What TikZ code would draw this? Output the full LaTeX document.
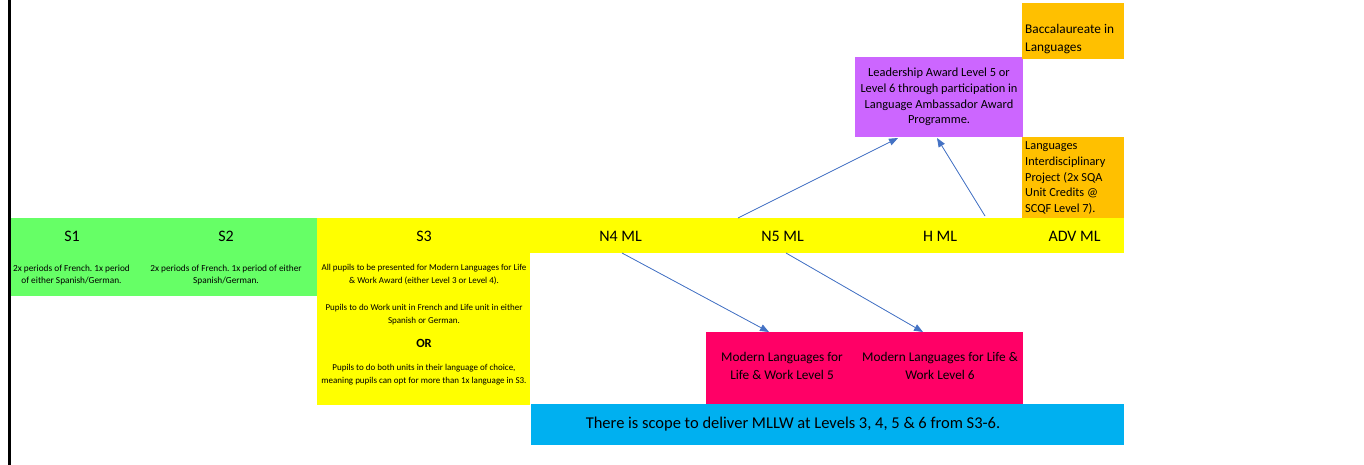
\documentclass[tikz,border=0pt]{standalone}
\usepackage{fontspec}
\setmainfont{Carlito}
\usetikzlibrary{arrows.meta}
\definecolor{cgreen}{HTML}{66FF66}
\definecolor{cyellow}{HTML}{FFFF00}
\definecolor{cpurple}{HTML}{CC66FF}
\definecolor{corange}{HTML}{FFC000}
\definecolor{cpink}{HTML}{FF0066}
\definecolor{cblue}{HTML}{00B0F0}
\definecolor{carrow}{HTML}{4472C4}
\frenchspacing
\begin{document}
\begin{tikzpicture}[x=1pt,y=-1pt,
 box/.style={inner sep=0pt, outer sep=0pt, anchor=north west},
 head/.style={font=\fontsize{16}{18}\selectfont, inner sep=0pt},
 small/.style={font=\fontsize{9.3}{12.8}\selectfont, align=center, inner sep=0pt},
 smaller/.style={font=\fontsize{9}{13}\selectfont, align=center, inner sep=0pt},
 mid/.style={font=\fontsize{12.4}{15.7}\selectfont, align=center, inner sep=0pt},
 lft/.style={align=left, anchor=west, inner sep=0pt},
 conn/.style={draw=carrow, line width=0.8pt, -{Triangle[length=9pt,width=7pt]}, fill=carrow}]
\useasboundingbox (0,0) rectangle (1364,465);
\draw[line width=3pt] (9,0) -- (9,465);
% boxes
\node[box, fill=cgreen, minimum width=306pt, minimum height=78pt] (green) at (11,218) {};
\node[box, fill=cyellow, minimum width=807pt, minimum height=35pt] (band) at (317,218) {};
\node[box, fill=cyellow, minimum width=213pt, minimum height=187pt] (s3box) at (317,218) {};
\node[box, fill=cpurple, minimum width=168pt, minimum height=80pt] (purple) at (855,57) {};
\node[box, fill=corange, minimum width=102pt, minimum height=56pt] (orange1) at (1022,3) {};
\node[box, fill=corange, minimum width=102pt, minimum height=81pt] (orange2) at (1022,137) {};
\node[box, fill=cpink, minimum width=317pt, minimum height=72pt] (pink) at (706,332) {};
\node[box, fill=cblue, minimum width=593pt, minimum height=41pt] (blue) at (531,404) {};
% headings
\node[head] (s1) at (72,236) {S1};
\node[head] (s2) at (226,236) {S2};
\node[head] (s3) at (424,236) {S3};
\node[head] (n4) at (620.5,236) {N4 ML};
\node[head] (n5) at (782.5,236) {N5 ML};
\node[head] (hml) at (940,236) {H ML};
\node[head] (adv) at (1074.5,236) {ADV ML};
% small texts
\node[small] (t1) at (71.5,275) {2x periods of French. 1x period\\of either Spanish/German.};
\node[small] (t2) at (226,275) {2x periods of French. 1x period of either\\Spanish/German.};
\node[smaller] (t3a) at (424,274.5) {All pupils to be presented for Modern Languages for Life\\\& Work Award (either Level 3 or Level 4).};
\node[smaller] (t3b) at (424,314.5) {Pupils to do Work unit in French and Life unit in either\\Spanish or German.};
\node[font=\fontsize{12.5}{14}\selectfont\bfseries, inner sep=0pt] (or) at (424,343) {OR};
\node[smaller] (t3c) at (424,374.5) {Pupils to do both units in their language of choice,\\meaning pupils can opt for more than 1x language in S3.};
% other texts
\node[mid] (lead) at (939,97) {Leadership Award Level 5 or\\Level 6 through participation in\\Language Ambassador Award\\Programme.};
\node[lft, font=\fontsize{13.3}{17.7}\selectfont] (bacc) at (1025,39) {Baccalaureate in\\Languages};
\node[lft, font=\fontsize{12.3}{15.8}\selectfont] (lip) at (1025,178) {Languages\\Interdisciplinary\\Project (2x SQA\\Unit Credits @\\SCQF Level 7).};
\node[mid, font=\fontsize{13.3}{17.7}\selectfont] (m5) at (782,366) {Modern Languages for\\Life \& Work Level 5};
\node[mid, font=\fontsize{13.3}{17.7}\selectfont] (m6) at (940,366) {Modern Languages for Life \&\\Work Level 6};
\node[font=\fontsize{16.5}{18}\selectfont, inner sep=0pt] (scope) at (793,424) {There is scope to deliver MLLW at Levels 3, 4, 5 \& 6 from S3-6.};
% connector ends
\coordinate (n4b) at (622,253);
\coordinate (n5b) at (786,253);
\coordinate (n5t) at (738,218);
\coordinate (ht) at (985,216);
\coordinate (m5t) at (769,332);
\coordinate (m6t) at (923,332);
\coordinate (la) at (898,138);
\coordinate (lb) at (937,138);
\draw[conn] (n4b) -- (m5t);
\draw[conn] (n5b) -- (m6t);
\draw[conn] (n5t) -- (la);
\draw[conn] (ht) -- (lb);
\end{tikzpicture}
\end{document}
